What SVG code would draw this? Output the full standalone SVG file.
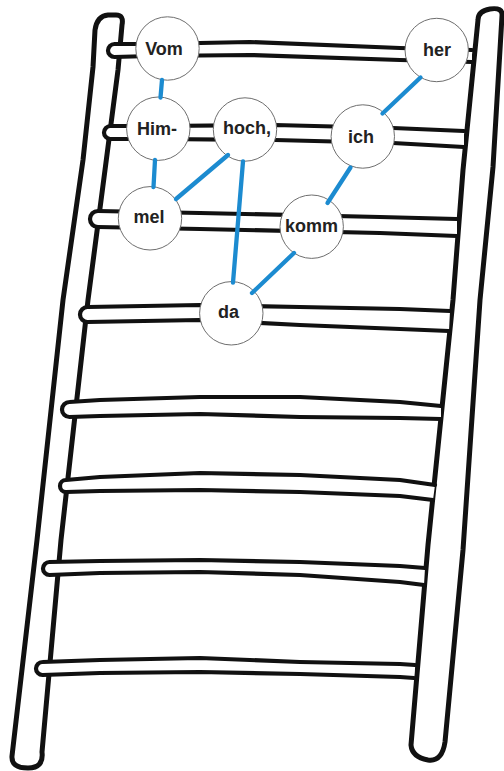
<svg xmlns="http://www.w3.org/2000/svg" width="504" height="771" viewBox="0 0 504 771">
<style>
.rail{fill:#fff;stroke:#111;stroke-width:5;stroke-linejoin:round;stroke-linecap:round}
.rung{fill:#fff;stroke:#111;stroke-width:4.2;stroke-linejoin:round;stroke-linecap:round}
.node circle{fill:#fff;stroke:#6e6e6e;stroke-width:1}
.node text{font-family:"Liberation Sans",Arial,sans-serif;font-weight:bold;font-size:18px;fill:#222;text-anchor:middle}
.edge{stroke:#1c8bd0;stroke-width:4.3;stroke-linecap:round;fill:none}
</style>
<rect width="504" height="771" fill="#fff"/>
<g id="ladder">
<path id="rail-left" class="rail" d="M12 756 L37 540 L63 300 L83 160 L93 67 L95 30 Q97 16 108 15 L116 15 Q124 15 122 25 L118 70 L105 170 L88 300 L61 540 L42 752 Q44 768 28 768 Q11 768 12 756 Z"/>
<path id="rail-right" class="rail" d="M478 20 Q478 11 490 9 Q503 7 502 16 L493 167 L480 300 L463 550 L445 742 Q442 762 428 760 Q412 757 411 745 L428 545 L453 300 L463 170 Z"/>
<path id="rung1" class="rung" d="M472 50 L400 48 L250 42 L150 44 L114.5 44 A6.5 6.5 0 0 0 114.5 57 L150 56 L250 55 L400 60 L472 62"/>
<path id="rung2" class="rung" d="M464 131 L393 128 L275 125 L160 126 L110.5 126 A6.5 6.5 0 0 0 110.5 139 L160 139 L275 140 L393 143 L464 147"/>
<path id="rung3" class="rung" d="M457 219 L380 217 L200 213 L98 211 A8 8 0 0 0 98 227 L200 229 L380 233 L457 236"/>
<path id="rung4" class="rung" d="M450 311 L400 309 L300 307 L200 305 L87.5 307 A7.5 7.5 0 0 0 87.5 322 L200 320 L300 325 L400 329 L449 331"/>
<path id="rung5" class="rung" d="M441 406 L400 402 L300 397 L200 397 L100 400 L69.5 402 A7.5 7.5 0 0 0 69.5 417 L100 416 L200 414 L300 417 L400 418 L441 419"/>
<path id="rung6" class="rung" d="M435 485 L400 480 L300 475 L200 473 L100 477 L66 480 A6 6 0 0 0 66 492 L100 491 L200 490 L300 492 L400 496 L433 500"/>
<path id="rung7" class="rung" d="M425 568 L400 566 L300 562 L200 560 L100 561 L49.5 562 A6.5 6.5 0 0 0 49.5 575 L100 573 L200 572 L300 575 L400 582 L424 585"/>
<path id="rung8" class="rung" d="M415 665 L400 664 L300 662 L200 658 L100 660 L42.5 662 A6.5 6.5 0 0 0 42.5 675 L100 673 L200 672 L300 674 L400 677 L414 678"/>
</g>
<g id="n-vom" class="node"><circle cx="167.5" cy="48.5" r="31.7"/><text x="164" y="54.5">Vom</text></g>
<g id="n-him" class="node"><circle cx="158.3" cy="128.7" r="31.7"/><text x="157" y="134.5">Him-</text></g>
<g id="n-hoch" class="node"><circle cx="245" cy="129.5" r="31.7"/><text x="247" y="134">hoch,</text></g>
<g id="n-her" class="node"><circle cx="436.7" cy="50" r="31.7"/><text x="437" y="56">her</text></g>
<g id="n-ich" class="node"><circle cx="362.8" cy="136.5" r="31.7"/><text x="361" y="142.5">ich</text></g>
<g id="n-mel" class="node"><circle cx="150" cy="218.3" r="31.7"/><text x="149" y="223">mel</text></g>
<g id="n-komm" class="node"><circle cx="311.7" cy="226.7" r="31.7"/><text x="311.5" y="231.5">komm</text></g>
<g id="n-da" class="node"><circle cx="231.3" cy="313.3" r="31.7"/><text x="228.5" y="318">da</text></g>
<g id="connectors">
<line class="edge" x1="162" y1="80" x2="160.5" y2="97.5"/>
<line class="edge" x1="155" y1="160" x2="153.5" y2="187"/>
<line class="edge" x1="228" y1="155" x2="176" y2="199"/>
<line class="edge" x1="243" y1="161.5" x2="233" y2="282.5"/>
<line class="edge" x1="420.5" y1="77.5" x2="382.5" y2="113.5"/>
<line class="edge" x1="350.5" y1="167.5" x2="327.5" y2="203"/>
<line class="edge" x1="294" y1="253" x2="252" y2="293"/>
</g>
</svg>
